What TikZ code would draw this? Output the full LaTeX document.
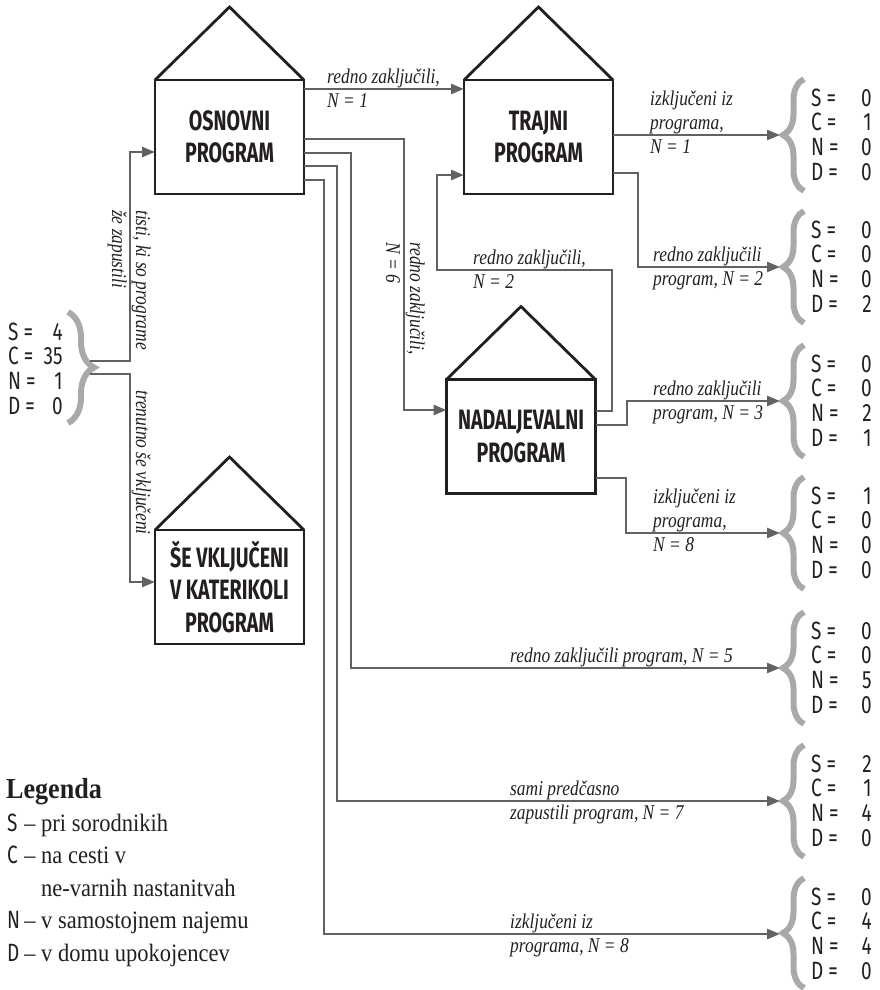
\documentclass[tikz,border=0pt]{standalone}
\usepackage{fontspec}
\setmainfont{Liberation Serif}
\newfontfamily\condfont[FakeStretch=0.76]{Fira Sans}
\newfontfamily\housefont[FakeStretch=0.7]{Fira Sans}
\newfontfamily\labelfont[FakeStretch=0.83]{Liberation Serif}
\newfontfamily\legendfont[FakeStretch=0.9]{Liberation Serif}
\usetikzlibrary{arrows.meta,decorations.pathreplacing}

\definecolor{LineGray}{RGB}{98,98,98}
\definecolor{BraceGray}{RGB}{167,169,172}
\definecolor{BoxBlack}{RGB}{35,31,32}

\newcommand{\Lines}[1]{\begin{tabular}[t]{@{}l@{}}#1\end{tabular}}
\newcommand{\Num}[1]{\makebox[33pt][r]{#1}}
\newcommand{\Counts}[4]{\begin{tabular}[t]{@{}l@{}l@{}}S =&\Num{#1}\\C =&\Num{#2}\\N =&\Num{#3}\\D =&\Num{#4}\end{tabular}}

\begin{document}
\begin{tikzpicture}[x=1pt,y=-1pt]
  \tikzset{HouseStyle/.style = {
    shape         = rectangle,
    draw          = BoxBlack,
    fill          = white,
    line width    = 2.8pt,
    text          = BoxBlack,
    inner sep     = 0pt,
    outer sep     = 0pt,
    minimum width = 149pt,
    minimum height= 114pt,
    align         = center,
    font          = \housefont\bfseries\fontsize{28}{32.5}\selectfont
    }
  }
  \tikzset{RoofStyle/.style = {
    draw          = BoxBlack,
    line width    = 2.8pt,
    line join     = miter
    }
  }
  \tikzset{FlowStyle/.style = {
    draw          = LineGray,
    line width    = 2.6pt,
    -{Triangle[length=13pt,width=10pt]}
    }
  }
  \tikzset{BraceStyle/.style = {
    draw          = BraceGray,
    line width    = 6pt,
    decorate,
    decoration    = {brace, amplitude=21pt}
    }
  }
  \tikzset{LabelStyle/.style = {
    anchor        = base west,
    inner sep     = 0pt,
    text          = BoxBlack,
    font          = \labelfont\itshape\fontsize{21}{24}\selectfont
    }
  }
  \tikzset{CountStyle/.style = {
    anchor        = base west,
    inner sep     = 0pt,
    text          = BoxBlack,
    font          = \condfont\fontsize{25}{24.7}\selectfont
    }
  }

  \useasboundingbox (0,0) rectangle (880,990);

  % houses
  \node[HouseStyle](Osn) at (229.5, 137) {OSNOVNI\\PROGRAM};
  \node[HouseStyle](Traj) at (538.5, 137) {TRAJNI\\PROGRAM};
  \node[HouseStyle](Nad) at (521, 436.5) {NADALJEVALNI\\PROGRAM};
  \node[HouseStyle](Vklj) at (229.5, 587) {ŠE VKLJUČENI\\V KATERIKOLI\\PROGRAM};
  \draw[RoofStyle](Osn.north west) -- ([yshift=73pt]Osn.north) -- (Osn.north east);
  \draw[RoofStyle](Traj.north west) -- ([yshift=73pt]Traj.north) -- (Traj.north east);
  \draw[RoofStyle](Nad.north west) -- ([yshift=73pt]Nad.north) -- (Nad.north east);
  \draw[RoofStyle](Vklj.north west) -- ([yshift=73pt]Vklj.north) -- (Vklj.north east);

  % counts
  \node[CountStyle](R0) at (8, 340) {\begin{tabular}[t]{@{}l@{}l@{}}S =&\makebox[27pt][r]{4}\\C =&\makebox[27pt][r]{35}\\N =&\makebox[27pt][r]{1}\\D =&\makebox[27pt][r]{0}\end{tabular}};
  \node[CountStyle](R1) at (811, 106) {\Counts{0}{1}{0}{0}};
  \node[CountStyle](R2) at (811, 238) {\Counts{0}{0}{0}{2}};
  \node[CountStyle](R3) at (811, 372) {\Counts{0}{0}{2}{1}};
  \node[CountStyle](R4) at (811, 504) {\Counts{1}{0}{0}{0}};
  \node[CountStyle](R5) at (811, 639) {\Counts{0}{0}{5}{0}};
  \node[CountStyle](R6) at (811, 772) {\Counts{2}{1}{4}{0}};
  \node[CountStyle](R7) at (811, 905) {\Counts{0}{4}{4}{0}};
  \draw[BraceStyle, decoration={amplitude=26pt}] (68, 312) -- (68, 423);
  \draw[BraceStyle] (804, 191) -- (804, 79);
  \draw[BraceStyle] (804, 323) -- (804, 211);
  \draw[BraceStyle] (804, 457) -- (804, 345);
  \draw[BraceStyle] (804, 589) -- (804, 477);
  \draw[BraceStyle] (804, 724) -- (804, 612);
  \draw[BraceStyle] (804, 857) -- (804, 745);
  \draw[BraceStyle] (804, 988) -- (804, 878);
  \coordinate (P0a) at (90, 361);
  \coordinate (P0b) at (90, 374);
  \coordinate (P1) at (780, 135);
  \coordinate (P2) at (780, 267);
  \coordinate (P3) at (780, 401);
  \coordinate (P4) at (780, 533);
  \coordinate (P5) at (780, 668);
  \coordinate (P6) at (780, 801);
  \coordinate (P7) at (780, 934);

  % connectors
  \draw[FlowStyle](P0a) -| (130, 152) -- (Osn.west |- 0,152);
  \draw[FlowStyle](P0b) -| (130, 582) -- (Vklj.west |- 0,582);
  \draw[FlowStyle](Osn.east |- 0,89) -- (Traj.west |- 0,89);
  \draw[FlowStyle](Osn.east |- 0,139) -| (404, 410) -- (Nad.west |- 0,410);
  \draw[FlowStyle](Osn.east |- 0,153) -| (351, 668) -- (P5);
  \draw[FlowStyle](Osn.east |- 0,166) -| (337, 801) -- (P6);
  \draw[FlowStyle](Osn.east |- 0,180) -| (324, 934) -- (P7);
  \draw[FlowStyle](Traj.east |- P1) -- (P1);
  \draw[FlowStyle](Traj.east |- 0,173) -| (638, 267) -- (P2);
  \draw[FlowStyle](Nad.east |- 0,411) -| (612, 270) -| (437, 175) -- (Traj.west |- 0,175);
  \draw[FlowStyle](Nad.east |- 0,425) -| (627, 401) -- (P3);
  \draw[FlowStyle](Nad.east |- 0,478) -| (626, 533) -- (P4);

  % labels
  \node[LabelStyle, rotate=-90](LblA) at (136, 210) {\Lines{tisti, ki so programe\\že zapustili}};
  \node[LabelStyle, rotate=-90](LblB) at (136, 390) {\Lines{trenutno še vključeni}};
  \node[LabelStyle, rotate=-90](LblC) at (410, 242) {\Lines{redno zaključili,\\N = 6}};
  \node[LabelStyle](LblD) at (327, 84) {\Lines{redno zaključili,\\N = 1}};
  \node[LabelStyle](LblE) at (650, 105) {\Lines{izključeni iz\\programa,\\N = 1}};
  \node[LabelStyle](LblF) at (653, 261) {\Lines{redno zaključili\\program, N = 2}};
  \node[LabelStyle](LblG) at (473, 264) {\Lines{redno zaključili,\\N = 2}};
  \node[LabelStyle](LblH) at (653, 395) {\Lines{redno zaključili\\program, N = 3}};
  \node[LabelStyle](LblI) at (653, 503) {\Lines{izključeni iz\\programa,\\N = 8}};
  \node[LabelStyle](LblJ) at (510, 662) {\Lines{redno zaključili program, N = 5}};
  \node[LabelStyle](LblK) at (510, 795) {\Lines{sami predčasno\\zapustili program, N = 7}};
  \node[LabelStyle](LblL) at (510, 928) {\Lines{izključeni iz\\programa, N = 8}};

  % legend
  \node[anchor=base west, inner sep=0pt, text=BoxBlack, font=\legendfont\bfseries\fontsize{29}{32}\selectfont](LegTitle) at (6, 798) {Legenda};
  \node[anchor=base west, inner sep=0pt, text=BoxBlack, font=\legendfont\fontsize{25}{32.5}\selectfont](Leg) at (7, 831) {\begin{tabular}[t]{@{}l@{\,}l@{}}
    {\condfont\fontsize{25}{32.5}\selectfont S} & – pri sorodnikih\\
    {\condfont\fontsize{25}{32.5}\selectfont C} & – na cesti v\\
     & \phantom{– }ne-varnih nastanitvah\\
    {\condfont\fontsize{25}{32.5}\selectfont N} & – v samostojnem najemu\\
    {\condfont\fontsize{25}{32.5}\selectfont D} & – v domu upokojencev
  \end{tabular}};

\end{tikzpicture}
\end{document}
